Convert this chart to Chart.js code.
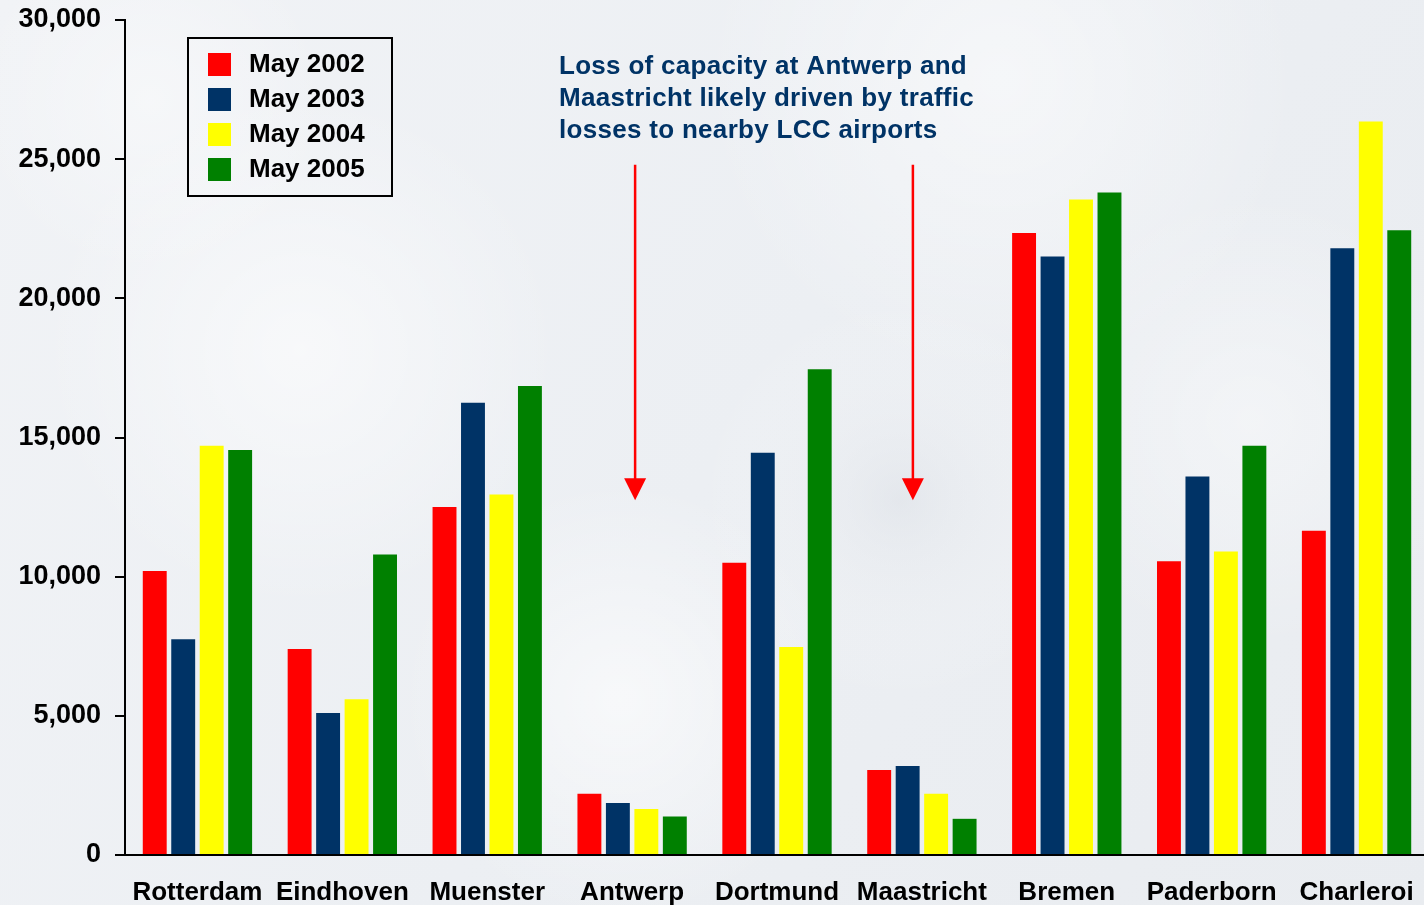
<!DOCTYPE html>
<html>
<head>
<meta charset="utf-8">
<script src="https://cdn.jsdelivr.net/npm/chart.js@4.4.1/dist/chart.umd.min.js"></script>
<style>
  html, body { margin: 0; padding: 0; overflow: hidden; }
  body { width: 1424px; height: 905px; background: #eef1f4; }
  #wrap { position: absolute; left: 0; top: 0; width: 1440px; height: 905px; }
</style>
</head>
<body>
<div id="wrap"><canvas id="chart"></canvas></div>
<script>
// airports and seat capacity per May month
const categories = ['Rotterdam', 'Eindhoven', 'Muenster', 'Antwerp', 'Dortmund', 'Maastricht', 'Bremen', 'Paderborn', 'Charleroi']
const seriesLabels = ['May 2002', 'May 2003', 'May 2004', 'May 2005']
const may2002 = [10200, 7400, 12500, 2200, 10500, 3050, 22350, 10550, 11650]
const may2003 = [7750, 5100, 16250, 1870, 14450, 3200, 21500, 13600, 21800]
const may2004 = [14700, 5600, 12950, 1650, 7470, 2200, 23550, 10900, 26350]
const may2005 = [14550, 10800, 16850, 1380, 17450, 1300, 23800, 14700, 22450]
const yTicks = [0, 5000, 10000, 15000, 20000, 25000, 30000]

const noteLines = [
  'Loss of capacity at Antwerp and',
  'Maastricht likely driven by traffic',
  'losses to nearby LCC airports'
]
// arrows point down at these airports (from / to values on the y scale)
const arrowAirports = ['Antwerp', 'Maastricht']
const arrowFrom = 24800
const arrowTo = 12750

const colors = ['#ff0000', '#003366', '#ffff00', '#008000']
const FONT = "'Liberation Sans', Arial, sans-serif"

const backdrop = {
  id: 'backdrop',
  beforeDraw(chart) {
    const { ctx, width, height } = chart
    ctx.save()
    const g = ctx.createLinearGradient(0, 0, width, height)
    g.addColorStop(0, '#f1f3f6')
    g.addColorStop(0.5, '#eceff3')
    g.addColorStop(1, '#e9ecf0')
    ctx.fillStyle = g
    ctx.fillRect(0, 0, width, height)
    const blobs = [
      [300, 350, 260, 'rgba(255,255,255,0.55)'],
      [620, 700, 220, 'rgba(255,255,255,0.6)'],
      [1000, 80, 300, 'rgba(255,255,255,0.5)'],
      [900, 500, 200, 'rgba(220,224,230,0.5)'],
      [1250, 420, 230, 'rgba(255,255,255,0.4)'],
      [150, 100, 180, 'rgba(255,255,255,0.4)']
    ]
    blobs.forEach(([x, y, r, c]) => {
      const rg = ctx.createRadialGradient(x, y, 0, x, y, r)
      rg.addColorStop(0, c)
      rg.addColorStop(1, 'rgba(255,255,255,0)')
      ctx.fillStyle = rg
      ctx.fillRect(x - r, y - r, r * 2, r * 2)
    })
    ctx.restore()
  }
}

const extras = {
  id: 'extras',
  afterDraw(chart) {
    const { ctx, scales } = chart
    ctx.save()

    // legend box
    ctx.strokeStyle = '#000'
    ctx.lineWidth = 2
    ctx.strokeRect(188, 38, 204, 158)
    ctx.font = 'bold 26px ' + FONT
    ctx.textBaseline = 'middle'
    ctx.textAlign = 'left'
    chart.data.datasets.forEach((ds, i) => {
      const y = 64 + i * 35
      ctx.fillStyle = ds.backgroundColor
      ctx.fillRect(208, y - 11, 23, 23)
      ctx.fillStyle = '#000'
      ctx.fillText(ds.label, 249, y + 1)
    })

    // note
    ctx.fillStyle = '#003366'
    ctx.font = 'bold 26px ' + FONT
    ctx.letterSpacing = '0.3px'
    noteLines.forEach((line, i) => ctx.fillText(line, 559, 67 + i * 32))
    ctx.letterSpacing = '0px'

    // arrows
    const offsets = [3, -9]
    ctx.strokeStyle = '#ff0000'
    ctx.fillStyle = '#ff0000'
    ctx.lineWidth = 2.5
    arrowAirports.forEach((name, i) => {
      const x = scales.x.getPixelForValue(categories.indexOf(name)) + offsets[i]
      const y0 = scales.y.getPixelForValue(arrowFrom)
      const y1 = scales.y.getPixelForValue(arrowTo)
      ctx.beginPath()
      ctx.moveTo(x, y0)
      ctx.lineTo(x, y1 - 20)
      ctx.stroke()
      ctx.beginPath()
      ctx.moveTo(x - 11, y1 - 22)
      ctx.lineTo(x + 11, y1 - 22)
      ctx.lineTo(x, y1)
      ctx.closePath()
      ctx.fill()
    })
    ctx.restore()
  }
}

const seriesData = [may2002, may2003, may2004, may2005]

new Chart(document.getElementById('chart'), {
  type: 'bar',
  data: {
    labels: categories,
    datasets: seriesData.map((d, i) => ({
      label: seriesLabels[i],
      data: d,
      backgroundColor: colors[i],
      borderWidth: 0,
      categoryPercentage: 0.786,
      barPercentage: 0.84
    }))
  },
  options: {
    responsive: true,
    maintainAspectRatio: false,
    animation: false,
    layout: { padding: { top: 20, right: 11, left: 0, bottom: 0 } },
    plugins: {
      legend: { display: false },
      tooltip: { enabled: false }
    },
    scales: {
      x: {
        grid: { display: false, drawTicks: false },
        border: { display: true, color: '#000', width: 2 },
        ticks: {
          color: '#000',
          font: { family: FONT, size: 26, weight: 'bold' },
          padding: 22,
          maxRotation: 0,
          autoSkip: false
        },
        afterFit(scale) { scale.height = 50 }
      },
      y: {
        min: 0,
        max: 30000,
        afterBuildTicks(scale) { scale.ticks = yTicks.map(v => ({ value: v })) },
        grid: { drawOnChartArea: false, color: '#000', lineWidth: 2, tickLength: 10 },
        border: { display: true, color: '#000', width: 2 },
        ticks: {
          color: '#000',
          font: { family: FONT, size: 27, weight: 'bold' },
          padding: 14,
          callback: v => v.toLocaleString('en-US')
        },
        afterFit(scale) {
          scale.width = 125
          scale.paddingTop = 0
          scale.paddingBottom = 0
        }
      }
    }
  },
  plugins: [backdrop, extras]
})
</script>
</body>
</html>
